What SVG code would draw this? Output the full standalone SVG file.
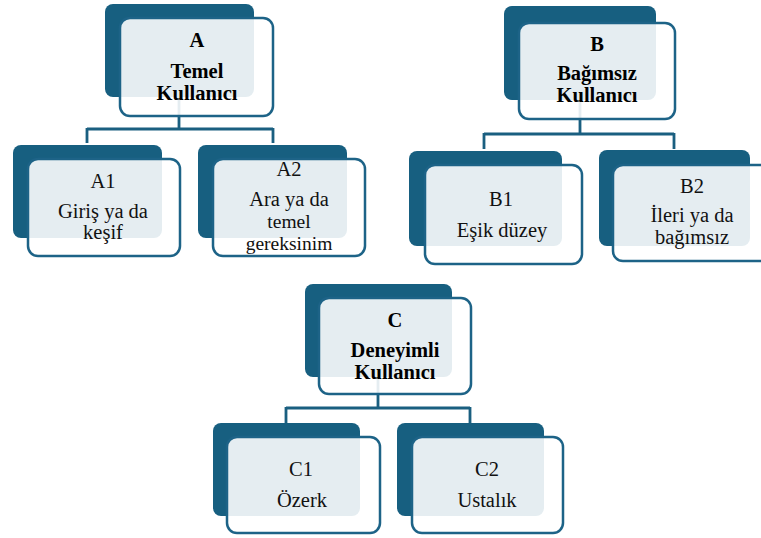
<svg xmlns="http://www.w3.org/2000/svg" width="761" height="538" viewBox="0 0 761 538">
<style>
.dk{fill:#175f80}
.lt{fill:#ffffff;fill-opacity:0.89;stroke:#1d6387;stroke-width:2.5}
.cn{fill:none;stroke:#1a5f80;stroke-width:2.8}
.h{font-family:"Liberation Serif","Times New Roman",serif;font-size:20.5px;font-weight:bold;fill:#000;text-anchor:middle}
.t{font-family:"Liberation Serif","Times New Roman",serif;font-size:20.5px;fill:#111;text-anchor:middle}
.s{font-size:19.5px}
</style>
<rect width="761" height="538" fill="#fff"/>
<g id="connectors">
<path class="cn" d="M179,97 V129 M87,129 H273 M87,128 V143 M273,128 V143"/>
<path class="cn" d="M580,100 V134 M484,134 H674 M484,133 V149 M674,133 V149"/>
<path class="cn" d="M378,377 V408 M286,408 H470 M286,407 V423 M470,407 V423"/>
</g>
<g id="A">
<rect class="dk" x="105" y="4" width="149" height="93" rx="8"/>
<rect class="lt" x="120" y="18" width="153" height="98" rx="10"/>
<text class="h" x="197" y="47">A</text>
<text class="h" x="197" y="78">Temel</text>
<text class="h" x="197" y="100">Kullanıcı</text>
</g>
<g id="A1">
<rect class="dk" x="13" y="145" width="149" height="93" rx="8"/>
<rect class="lt" x="28" y="159" width="152" height="97" rx="10"/>
<text class="t" x="103" y="188">A1</text>
<text class="t" x="103" y="218">Giriş ya da</text>
<text class="t" x="103" y="239">keşif</text>
</g>
<g id="A2">
<rect class="dk" x="198" y="145" width="149" height="93" rx="8"/>
<rect class="lt" x="213" y="159" width="152" height="97" rx="10"/>
<text class="t" x="289" y="176">A2</text>
<text class="t" x="289" y="206">Ara ya da</text>
<text class="t s" x="289" y="228">temel</text>
<text class="t s" x="289" y="250">gereksinim</text>
</g>
<g id="B">
<rect class="dk" x="504" y="6" width="152" height="94" rx="8"/>
<rect class="lt" x="519" y="23" width="156" height="96" rx="10"/>
<text class="h" x="597" y="51">B</text>
<text class="h" x="597" y="80">Bağımsız</text>
<text class="h" x="597" y="102">Kullanıcı</text>
</g>
<g id="B1">
<rect class="dk" x="409" y="151" width="153" height="95" rx="8"/>
<rect class="lt" x="425" y="165" width="157" height="99" rx="10"/>
<text class="t" x="501" y="206">B1</text>
<text class="t" x="502" y="237">Eşik düzey</text>
</g>
<g id="B2">
<rect class="dk" x="599" y="150" width="151" height="96" rx="8"/>
<rect class="lt" x="613" y="165" width="160" height="96" rx="10"/>
<text class="t" x="692" y="193">B2</text>
<text class="t" x="692" y="222">İleri ya da</text>
<text class="t" x="692" y="244">bağımsız</text>
</g>
<g id="C">
<rect class="dk" x="305" y="284" width="147" height="93" rx="8"/>
<rect class="lt" x="319" y="298" width="152" height="96" rx="10"/>
<text class="h" x="395" y="327">C</text>
<text class="h" x="395" y="357">Deneyimli</text>
<text class="h" x="395" y="379">Kullanıcı</text>
</g>
<g id="C1">
<rect class="dk" x="213" y="423" width="147" height="93" rx="8"/>
<rect class="lt" x="227" y="437" width="153" height="96" rx="10"/>
<text class="t" x="301" y="476">C1</text>
<text class="t" x="302" y="507">Özerk</text>
</g>
<g id="C2">
<rect class="dk" x="397" y="423" width="147" height="93" rx="8"/>
<rect class="lt" x="412" y="437" width="151" height="96" rx="10"/>
<text class="t" x="487" y="476">C2</text>
<text class="t" x="487" y="507">Ustalık</text>
</g>
</svg>
